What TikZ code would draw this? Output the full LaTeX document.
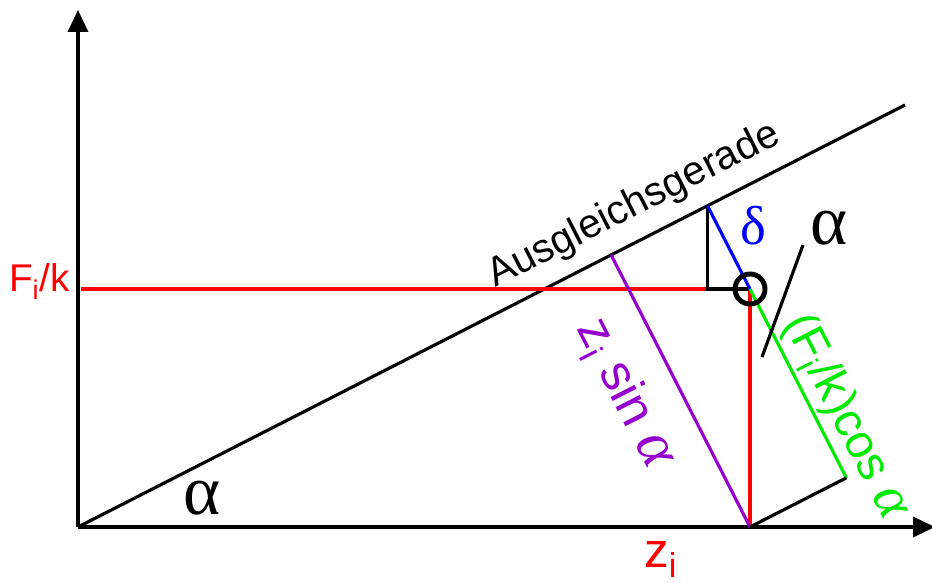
\documentclass[tikz,border=0pt]{standalone}
\usepackage{fontspec}
\setmainfont{Liberation Sans}
\newfontfamily\greekfont[Scale=1.3]{Liberation Serif}
\newfontfamily\alphafont[Scale=1.2]{Liberation Serif}
\usetikzlibrary{calc,arrows.meta}
\definecolor{measureRed}{RGB}{255,0,0}
\definecolor{deltaBlue}{RGB}{0,0,255}
\definecolor{cosGreen}{RGB}{0,235,0}
\definecolor{sinPurple}{RGB}{150,0,205}
\newcommand{\galpha}{{\alphafont\itshape α}}

\begin{document}
\begin{tikzpicture}[
    axis/.style={-{Triangle[length=0.44cm,width=0.4cm]}, line width=2pt},
    geo/.style={line width=1.8pt},
    lbl/.style={font=\fontsize{22}{26}\selectfont, inner sep=0pt},
    biglbl/.style={font=\fontsize{29}{33}\selectfont, inner sep=0pt},
    greek/.style={font=\fontsize{31}{35}\selectfont\greekfont, inner sep=0pt}
]
\useasboundingbox (0,0) rectangle (18.64,11.66);

% Points
\coordinate (O) at (1.56,1.12);
\coordinate (Y) at (1.56,11.46);
\coordinate (X) at (18.70,1.12);
\coordinate (E) at (18.10,9.56);
\coordinate (P) at (15.0,5.88);
\coordinate (Z) at (15.0,1.12);
\coordinate (F) at (1.62,5.88);
\coordinate (D) at ($(O)!(P)!(E)$);
\coordinate (C) at (D |- P);
\coordinate (S) at ($(O)!(Z)!(E)$);
\coordinate (Zd) at ($(Z)+(E)-(O)$);
\coordinate (Q) at ($(Z)!(P)!(Zd)$);
\coordinate (A1) at (15.24,4.52);
\coordinate (A2) at (16.06,6.76);

% Axes
\draw[axis] (O) -- (Y);
\draw[axis] (O) -- (X);

% Ausgleichsgerade
\draw[geo] (O) -- (E);
\node[lbl, font=\fontsize{23}{27}\selectfont, rotate=27.03, anchor=base] (fit) at ($(O)!0.691!(E)+(117.03:0.46)$) {Ausgleichsgerade};

% Measured point
\draw[geo, measureRed] (F) -- (C);
\draw[geo, measureRed] (P) -- (Z);
\draw[geo] (D) -- (C) -- (P);
\draw[geo, deltaBlue] (D) -- (P);
\draw[geo, sinPurple] (S) -- (Z);
\draw[geo, cosGreen] (P) -- (Q);
\draw[geo] (Q) -- (Z);
\draw[geo] (A1) -- (A2);
\node[draw, circle, line width=2.8pt, minimum size=0.6cm, inner sep=0pt] (pt) at (P) {};

% Labels
\node[lbl, text=measureRed, anchor=base east] (fk) at (1.40,5.82) {F\textsubscript{i}/k};
\node[biglbl, font=\fontsize{28}{32}\selectfont, text=measureRed, anchor=base west] (zi) at (12.88,0.30) {z\textsubscript{i}};
\node[greek, anchor=base west] (a1) at (3.66,1.36) {α};
\node[greek, font=\fontsize{24}{28}\selectfont\greekfont, text=deltaBlue, anchor=base west] (d) at (14.80,6.76) {δ};
\node[greek, anchor=base west] (a2) at (16.20,6.76) {α};
\node[biglbl, text=sinPurple, rotate=-63] (zsin) at (12.48,3.78) {z\textsubscript{i} sin \galpha};
\node[biglbl, font=\fontsize{27}{31}\selectfont, text=cosGreen, rotate=-63] (fcos) at (16.90,3.31) {(F\textsubscript{i}/k)cos \galpha};

\end{tikzpicture}
\end{document}
